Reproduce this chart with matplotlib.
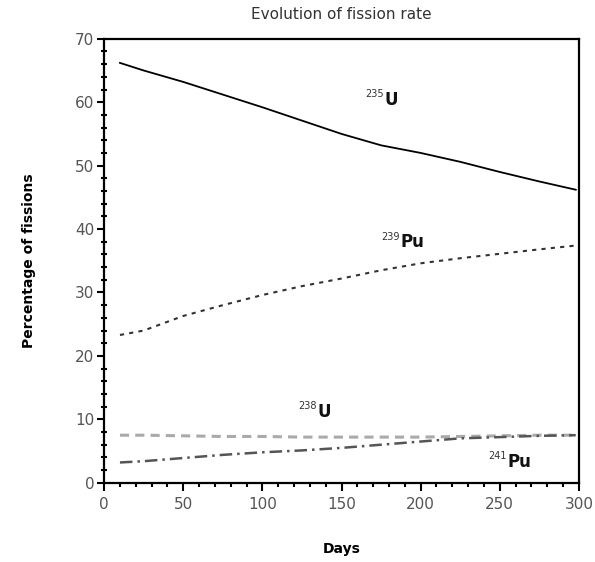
import matplotlib
matplotlib.use("Agg")
import matplotlib.pyplot as plt
import numpy as np
from matplotlib.ticker import MultipleLocator

# values
days = [10, 25, 50, 75, 100, 125, 150, 175, 200, 225, 250, 275, 298]
u235 = [66.2, 65.0, 63.2, 61.2, 59.2, 57.1, 55.0, 53.2, 52.0, 50.6, 49.0, 47.5, 46.2]
pu239 = [23.3, 24.0, 26.3, 28.0, 29.6, 31.0, 32.2, 33.5, 34.6, 35.4, 36.1, 36.8, 37.4]
u238 = [7.5, 7.5, 7.4, 7.3, 7.3, 7.2, 7.2, 7.2, 7.2, 7.3, 7.4, 7.5, 7.5]
pu241 = [3.2, 3.4, 3.9, 4.4, 4.8, 5.1, 5.5, 6.0, 6.5, 7.0, 7.2, 7.4, 7.5]

# (mass number, element, x of element's left edge, y of its centre)
labels = [("235", "U", 177, 60.4), ("239", "Pu", 187, 37.9),
          ("238", "U", 135, 11.2), ("241", "Pu", 255, 3.3)]

plt.rcParams['font.family'] = ['DejaVu Sans']

fig = plt.figure(figsize=(5.95, 5.62), dpi=100)
ax = fig.add_axes([0.175, 0.141, 0.798, 0.790])

ax.plot(days, u235, color='black', lw=1.3)
ax.plot(days, pu239, color='#333333', lw=1.5, ls=(0, (2, 2.5)))
ax.plot(days, u238, color='#aaaaaa', lw=2.2, ls=(0, (3, 2)))
ax.plot(days, pu241, color='#555555', lw=1.8, ls=(0, (5, 2, 1, 2)))

for num, el, x, y in labels:
    ax.text(x, y, el, fontsize=12, fontweight='bold', color='#111111',
            ha='left', va='center')
    ax.annotate(num, (x, y), xytext=(-0.5, 0.5), textcoords='offset points',
                fontsize=7, color='#333333', ha='right', va='bottom')

ax.set_xlim(0, 300)
ax.set_ylim(0, 70)
ax.xaxis.set_major_locator(MultipleLocator(50))
ax.xaxis.set_minor_locator(MultipleLocator(10))
ax.yaxis.set_major_locator(MultipleLocator(10))
ax.yaxis.set_minor_locator(MultipleLocator(2))
ax.tick_params(axis='x', which='major', direction='out', length=6, width=1.5,
               labelsize=11, labelcolor='#555555', pad=4)
ax.tick_params(axis='x', which='minor', direction='out', length=3, width=1.5)
ax.tick_params(axis='y', which='major', direction='out', length=5, width=1.5,
               labelsize=11, labelcolor='#555555', pad=2)
ax.tick_params(axis='y', which='minor', direction='inout', length=4, width=1.5)
for s in ax.spines.values():
    s.set_linewidth(1.6)

ax.set_title("Evolution of fission rate", fontsize=11, color='#333333', pad=14)
ax.set_xlabel("Days", fontsize=10, fontweight='bold', labelpad=22)
ax.set_ylabel("Percentage of fissions", fontsize=10, fontweight='bold', labelpad=28)

fig.savefig("out.png", dpi=100)
